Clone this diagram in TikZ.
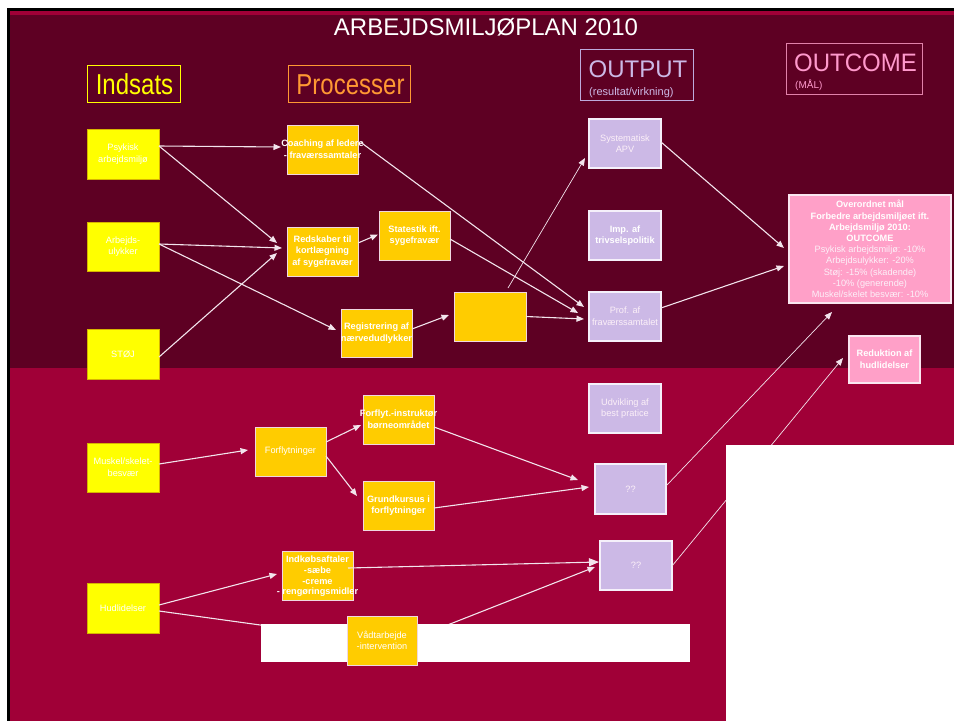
\documentclass[tikz,border=0pt]{standalone}
\usepackage{fontspec}
\setmainfont{Liberation Sans}
\usetikzlibrary{arrows.meta,calc}
\definecolor{bgdark}{RGB}{94,0,35}
\definecolor{bgred}{RGB}{160,0,55}
\definecolor{yel}{RGB}{255,255,0}
\definecolor{yeledge}{RGB}{215,180,0}
\definecolor{org}{RGB}{255,204,0}
\definecolor{orgedge}{RGB}{240,215,225}
\definecolor{lil}{RGB}{204,185,230}
\definecolor{liledge}{RGB}{245,240,250}
\definecolor{pnk}{RGB}{255,160,200}
\definecolor{pnkedge}{RGB}{250,230,240}
\definecolor{hproc}{RGB}{255,153,51}
\definecolor{hout}{RGB}{204,185,230}
\definecolor{houtE}{RGB}{190,170,220}
\definecolor{houtc}{RGB}{255,153,204}
\definecolor{houtcE}{RGB}{225,130,170}
\definecolor{linec}{RGB}{242,228,236}
\definecolor{softw}{RGB}{252,240,248}
\pgfdeclarelayer{lines}
\pgfdeclarelayer{cover}
\pgfdeclarelayer{top}
\pgfsetlayers{main,lines,cover,top}
\begin{document}
\begin{tikzpicture}[x=1pt,y=-1pt,
  ybox/.style={fill=yel,draw=yeledge,line width=1pt,inner sep=0pt,outer sep=0pt,minimum width=72pt,minimum height=50pt},
  obox/.style={fill=org,draw=orgedge,line width=1pt,inner sep=0pt,outer sep=0pt,minimum width=71pt,minimum height=49pt},
  lbox/.style={fill=lil,draw=liledge,line width=1.2pt,inner sep=0pt,outer sep=0pt,minimum width=72pt,minimum height=49pt},
  pbox/.style={fill=pnk,draw=pnkedge,line width=1.2pt,inner sep=0pt,outer sep=0pt},
  hbox/.style={line width=1pt,inner sep=0pt,outer sep=0pt},
  htxt/.style={font=\fontsize{24}{24}\selectfont,anchor=base,inner sep=0pt},
  rtxt/.style={text=white,align=center,inner sep=0pt,font=\fontsize{9.2}{11.6}\selectfont},
  btxt/.style={text=white,align=center,inner sep=0pt,font=\fontsize{9.2}{11.6}\selectfont\bfseries},
  conn/.style={draw=linec,line width=1.1pt,-{Triangle[length=7.5pt,width=6pt]}},
  fineconn/.style={draw=linec,line width=0.7pt,-{Triangle[length=7.5pt,width=6pt]}}]

\useasboundingbox (0,0) rectangle (954,721);
\fill[white] (0,0) rectangle (954,721);
\fill[black] (7,8) rectangle (954,721);
\fill[bgred] (10,11) rectangle (954,721);
\fill[bgdark] (10,15) rectangle (954,368);

% title
\node[htxt,text=white] (title) at (486,35) {ARBEJDSMILJØPLAN 2010};

% headers
\node[hbox,draw=yel,minimum width=93pt,minimum height=37pt] (hInd) at (133.5,83.5) {};
\node[htxt,text=yel] (hIndT) at (134.5,94) {\scalebox{1}[1.2]{Indsats}};
\node[hbox,draw=hproc,minimum width=122pt,minimum height=37pt] (hProc) at (349,83.5) {};
\node[htxt,text=hproc] (hProcT) at (350.5,94) {\scalebox{1}[1.2]{Processer}};
\node[hbox,draw=houtE,minimum width=113pt,minimum height=51pt] (hOut) at (636.5,74.5) {};
\node[htxt,text=hout] (hOutT) at (638,77) {OUTPUT};
\node[text=hout,font=\fontsize{11}{11}\selectfont,anchor=base west,inner sep=0pt] (hOutS) at (589,95) {(resultat/virkning)};
\node[hbox,draw=houtcE,minimum width=136pt,minimum height=51pt] (hOutc) at (854,68.5) {};
\node[htxt,text=houtc] (hOutcT) at (855.5,71) {\scalebox{1}[1.05]{OUTCOME}};
\node[text=houtc,font=\fontsize{10}{10}\selectfont,anchor=base west,inner sep=0pt] (hOutcS) at (795,88) {(MÅL)};

% Indsats
\node[ybox] (psy) at (123,154) {};
\node[rtxt] (psyT) at (psy.center) {Psykisk\\arbejdsmiljø};
\node[ybox,minimum height=49pt] (arb) at (123,246.5) {};
\node[rtxt] (arbT) at (arb.center) {Arbejds-\\ulykker};
\node[ybox] (stoj) at (123,354) {};
\node[rtxt] (stojT) at (stoj.center) {STØJ};
\node[ybox,minimum height=49pt] (musk) at (123,467.5) {};
\node[rtxt] (muskT) at (musk.center) {Muskel/skelet-\\besvær};
\node[ybox] (hud) at (123,608) {};
\node[rtxt] (hudT) at (hud.center) {Hudlidelser};

% Processer
\node[obox] (coach) at (322.5,149.5) {};
\node[btxt] (coachT) at (coach.center) {Coaching af ledere\\- fraværssamtaler};
\node[obox] (reds) at (322.5,251.5) {};
\node[btxt] (redsT) at (reds.center) {Redskaber til\\kortlægning\\af sygefravær};
\node[obox] (stat) at (414.5,235.5) {};
\node[btxt] (statT) at (stat.center) {Statestik ift.\\sygefravær};
\node[obox,minimum height=48pt] (reg) at (376.5,333) {};
\node[btxt] (regT) at (reg.center) {Registrering af\\nærvedudlykker};
\node[obox,minimum width=72pt] (empty) at (490,316.5) {};
\node[obox] (forfl) at (290.5,451.5) {};
\node[rtxt] (forflT) at (forfl.center) {Forflytninger};
\node[obox] (finstr) at (398.5,419.5) {};
\node[btxt] (finstrT) at (finstr.center) {Forflyt.-instruktør\\børneområdet};
\node[obox] (grund) at (398.5,505.5) {};
\node[btxt] (grundT) at (grund.center) {Grundkursus i\\forflytninger};
\node[obox] (indk) at (317.5,575.5) {};
\node[btxt,font=\fontsize{9.2}{10.7}\selectfont\bfseries] (indkT) at (317.5,576.5) {Indkøbsaftaler\\-sæbe\\-creme\\- rengøringsmidler};
\begin{pgfonlayer}{top}
\node[obox,minimum width=70pt] (vaad) at (382,640.5) {};
\node[rtxt] (vaadT) at (vaad.center) {Vådtarbejde\\-intervention};
\end{pgfonlayer}

% Output
\node[lbox] (sys) at (625,143.5) {};
\node[rtxt,text=softw] (sysT) at (sys.center) {Systematisk\\APV};
\node[lbox] (imp) at (625,235.5) {};
\node[btxt] (impT) at (imp.center) {Imp. af\\trivselspolitik};
\node[lbox] (prof) at (625,316.5) {};
\node[rtxt,text=softw] (profT) at (prof.center) {Prof. af\\fraværssamtalet};
\node[lbox] (udv) at (625,408.5) {};
\node[rtxt,text=softw] (udvT) at (udv.center) {Udvikling af\\best pratice};
\node[lbox,minimum width=71pt,minimum height=50pt] (q1) at (630.5,489) {};
\node[rtxt,text=softw] (q1T) at (q1.center) {??};
\node[lbox] (q2) at (636,565.5) {};
\node[rtxt,text=softw] (q2T) at (q2.center) {??};

% Outcome
\node[pbox,minimum width=162pt,minimum height=108pt] (over) at (870,249) {};
\node[rtxt,font=\fontsize{9.2}{11.2}\selectfont] (overT) at (over.center) {\bfseries Overordnet mål\\\bfseries Forbedre arbejdsmiljøet ift.\\\bfseries Arbejdsmiljø 2010:\\\bfseries OUTCOME\\\color{softw}Psykisk arbejdsmiljø: -10\%\\\color{softw}Arbejdsulykker: -20\%\\\color{softw}Støj: -15\% (skadende)\\\color{softw}-10\% (generende)\\\color{softw}Muskel/skelet besvær: -10\%};
\node[pbox,minimum width=71pt,minimum height=47pt] (red) at (884.5,359.5) {};
\node[btxt] (redT) at (red.center) {Reduktion af\\hudlidelser};

% connectors
\begin{pgfonlayer}{lines}
\draw[conn] ($(psy.east)+(0,-8)$) -- ($(coach.west)+(-6,-2.5)$);
\draw[conn] ($(psy.east)+(0,-8)$) -- ($(reds.west)+(-10,-8.5)$);
\draw[conn] ($(arb.east)+(0,-2.5)$) -- ($(reds.west)+(-5,-3.5)$);
\draw[conn] ($(arb.east)+(0,-2.5)$) -- ($(reg.west)+(-5,-3)$);
\draw[conn] ($(stoj.east)+(0,3)$) -- ($(reds.west)+(-10,1.5)$);
\draw[conn] ($(reds.east)+(0,-8.5)$) -- ($(stat.west)+(-1,-1)$);
\draw[conn] ($(coach.east)+(3,-7)$) -- ($(prof.west)+(-5,-9.5)$);
\draw[conn] ($(stat.east)+(0,3.5)$) -- ($(prof.west)+(-11,-3.5)$);
\draw[conn] (empty.east) -- ($(prof.west)+(-5,2.5)$);
\draw[conn] ($(reg.east)+(0,-4)$) -- ($(empty.west)+(-5,-1.5)$);
\draw[fineconn] ($(empty.north)+(18,-4)$) -- ($(sys.west)+(-4,14.5)$);
\draw[conn] ($(sys.east)+(0,-1.5)$) -- ($(over.west)+(-5,-1)$);
\draw[conn] ($(prof.east)+(0,-8.5)$) -- ($(over.west)+(-5,17)$);
\draw[fineconn] ($(q1.east)+(0,-3)$) -- ($(over.south)+(-38,9)$);
\draw[fineconn] ($(q2.east)+(0,0.5)$) -- ($(red.west)+(-6,-1.5)$);
\draw[conn] ($(musk.east)+(0,-3.5)$) -- ($(forfl.west)+(-7,-1.5)$);
\draw[conn] ($(forfl.east)+(0,-9.5)$) -- ($(finstr.west)+(-2,5.5)$);
\draw[conn] ($(forfl.east)+(0,4.5)$) -- ($(grund.west)+(-6,-9.5)$);
\draw[conn] ($(finstr.east)+(0,7.5)$) -- ($(q1.west)+(-17,-9)$);
\draw[conn] ($(grund.east)+(0,2.5)$) -- ($(q1.west)+(-6,-2)$);
\draw[conn] ($(hud.east)+(0,-3)$) -- ($(indk.west)+(-5,-1.5)$);
\draw[conn,-{Triangle[length=10pt,width=8pt]}] ($(indk.east)+(-5,-7.5)$) -- ($(q2.west)+(-1,-3.5)$);
\draw[draw=linec,line width=1.1pt] ($(hud.east)+(0,3)$) -- ($(vaad.west)+(0,-3.5)$);
\draw[conn] ($(vaad.east)+(0,-3.5)$) -- ($(q2.west)+(-5,1.5)$);
\end{pgfonlayer}

% white covering areas
\begin{pgfonlayer}{cover}
\fill[white] (726,445) rectangle (954,721);
\fill[white] (261,624) rectangle (690,662);
\end{pgfonlayer}
\end{tikzpicture}
\end{document}
